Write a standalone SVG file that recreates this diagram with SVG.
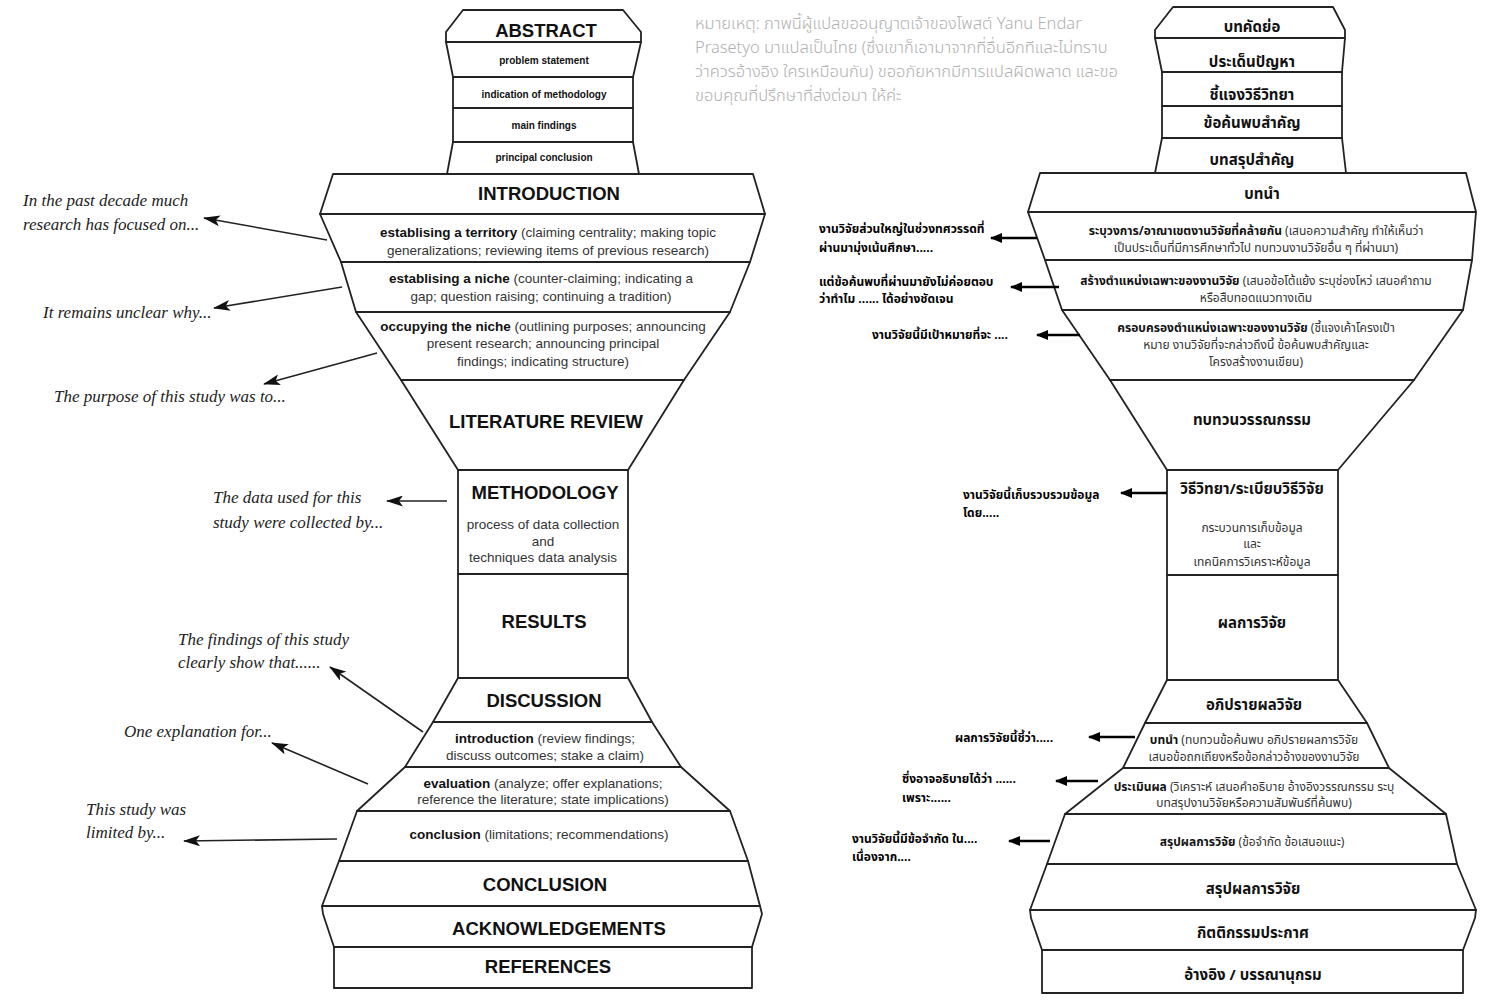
<svg xmlns="http://www.w3.org/2000/svg" width="1500" height="1000" viewBox="0 0 1500 1000">
<style>
.bx{fill:#fff;stroke:#222;stroke-width:1.8;stroke-linejoin:round}
.h{font-family:"Liberation Sans",Arial,sans-serif;font-weight:bold;font-size:18.5px;fill:#111;text-anchor:middle}
.s{font-family:"Liberation Sans",Arial,sans-serif;font-size:13.5px;fill:#333;text-anchor:middle}
.b{font-weight:bold;fill:#111}
.ab{font-family:"Liberation Sans",Arial,sans-serif;font-weight:bold;font-size:10px;fill:#111;text-anchor:middle}
.a{font-family:"Liberation Serif","Times New Roman",serif;font-style:italic;font-size:17px;fill:#222}
.th{font-family:"Noto Sans Thai","Noto Sans Thai UI",Loma,Garuda,Tahoma,"Noto Sans",sans-serif}
.thh{font-weight:bold;font-size:15px;fill:#111;text-anchor:middle}
.ths{font-size:12px;fill:#333;text-anchor:middle}
.tha{font-weight:bold;font-size:12px;fill:#000}
.note{font-size:16.5px;fill:#b0b0b0;font-weight:300}
.cl{stroke:#222;stroke-width:1.6;fill:none}
.cr{stroke:#000;stroke-width:2.5;fill:none}
</style>
<defs>
<marker id="ahL" markerWidth="17" markerHeight="11" refX="16" refY="5.5" orient="auto" markerUnits="userSpaceOnUse"><path d="M0,0 L17,5.5 L0,11 L4,5.5 z" fill="#111"/></marker>
<marker id="ahR" markerWidth="12" markerHeight="10" refX="11" refY="5" orient="auto" markerUnits="userSpaceOnUse"><path d="M0,0 L12,5 L0,10 z" fill="#000"/></marker>
</defs>
<rect width="1500" height="1000" fill="#fff"/>

<!-- LEFT DIAGRAM -->
<g id="L-abstract"><polygon class="bx" points="463,10 623,10 641,32 641,42 446,42 446,32"/><text class="h" x="546" y="37">ABSTRACT</text></g>
<g id="L-problem"><polygon class="bx" points="446,42 641,42 633,77 453,77"/><text class="ab" x="544" y="64">problem statement</text></g>
<g id="L-indication"><rect class="bx" x="453" y="77" width="180" height="31"/><text class="ab" x="544" y="98">indication of methodology</text></g>
<g id="L-mainfindings"><rect class="bx" x="453" y="108" width="180" height="34"/><text class="ab" x="544" y="129">main findings</text></g>
<g id="L-principal"><polygon class="bx" points="453,142 633,142 639,174 447,174"/><text class="ab" x="544" y="161">principal conclusion</text></g>
<g id="L-introduction"><polygon class="bx" points="333,174 753,174 765,214 320,214"/><text class="h" x="549" y="200">INTRODUCTION</text></g>
<g id="L-territory"><polygon class="bx" points="320,214 765,214 750,262 341,262"/><text class="s" x="548" y="237"><tspan class="b">establising a territory</tspan> (claiming centrality; making topic</text><text class="s" x="548" y="255">generalizations; reviewing items of previous research)</text></g>
<g id="L-niche"><polygon class="bx" points="341,262 750,262 730,312 356,312"/><text class="s" x="541" y="283"><tspan class="b">establising a niche</tspan> (counter-claiming; indicating a</text><text class="s" x="541" y="301">gap; question raising; continuing a tradition)</text></g>
<g id="L-occupy"><polygon class="bx" points="356,312 730,312 684,380 401,380"/><text class="s" x="543" y="331"><tspan class="b">occupying the niche</tspan> (outlining purposes; announcing</text><text class="s" x="543" y="348">present research; announcing principal</text><text class="s" x="543" y="366">findings; indicating structure)</text></g>
<g id="L-litreview"><polygon class="bx" points="401,380 684,380 628,470 458,470"/><text class="h" x="546" y="428">LITERATURE REVIEW</text></g>
<g id="L-methodology"><rect class="bx" x="458" y="470" width="170" height="104"/><text class="h" x="545" y="499">METHODOLOGY</text><text class="s" x="543" y="529">process of data collection</text><text class="s" x="543" y="546">and</text><text class="s" x="543" y="562">techniques data analysis</text></g>
<g id="L-results"><rect class="bx" x="458" y="574" width="170" height="104"/><text class="h" x="544" y="628">RESULTS</text></g>
<g id="L-discussion"><polygon class="bx" points="458,678 628,678 652,722 433,722"/><text class="h" x="544" y="707">DISCUSSION</text></g>
<g id="L-disc-intro"><polygon class="bx" points="433,722 652,722 681,767 405,767"/><text class="s" x="545" y="743"><tspan class="b">introduction</tspan> (review findings;</text><text class="s" x="545" y="760">discuss outcomes; stake a claim)</text></g>
<g id="L-evaluation"><polygon class="bx" points="405,767 681,767 730,811 357,811"/><text class="s" x="543" y="788"><tspan class="b">evaluation</tspan> (analyze; offer explanations;</text><text class="s" x="543" y="804">reference the literature; state implications)</text></g>
<g id="L-conc-sub"><polygon class="bx" points="357,811 730,811 748,861 339,861"/><text class="s" x="539" y="839"><tspan class="b">conclusion</tspan> (limitations; recommendations)</text></g>
<g id="L-conclusion"><polygon class="bx" points="339,861 748,861 760,906 322,906"/><text class="h" x="545" y="891">CONCLUSION</text></g>
<g id="L-ack"><polygon class="bx" points="322,906 760,906 762,914 752,947 334,947 323,914"/><text class="h" x="559" y="935">ACKNOWLEDGEMENTS</text></g>
<g id="L-references"><rect class="bx" x="334" y="947" width="418" height="41"/><text class="h" x="548" y="973">REFERENCES</text></g>

<g id="L-annotations">
<text class="a" x="23" y="206">In the past decade much</text>
<text class="a" x="23" y="230">research has focused on...</text>
<text class="a" x="43" y="318">It remains unclear why...</text>
<text class="a" x="54" y="402">The purpose of this study was to...</text>
<text class="a" x="213" y="503">The data used for this</text>
<text class="a" x="213" y="528">study were collected by...</text>
<text class="a" x="178" y="645">The findings of this study</text>
<text class="a" x="178" y="668">clearly show that......</text>
<text class="a" x="124" y="737">One explanation for...</text>
<text class="a" x="86" y="815">This study was</text>
<text class="a" x="86" y="838">limited by...</text>
</g>

<!-- NOTE -->
<g id="note" class="th note">
<text x="695" y="29">หมายเหตุ: ภาพนี้ผู้แปลขออนุญาตเจ้าของโพสต์ Yanu Endar</text>
<text x="695" y="53">Prasetyo มาแปลเป็นไทย (ซึ่งเขาก็เอามาจากที่อื่นอีกทีและไม่ทราบ</text>
<text x="695" y="77">ว่าควรอ้างอิง ใครเหมือนกัน) ขออภัยหากมีการแปลผิดพลาด และขอ</text>
<text x="695" y="101">ขอบคุณที่ปรึกษาที่ส่งต่อมา ให้ค่ะ</text>
</g>

<!-- RIGHT DIAGRAM -->
<g id="R-abstract" class="th"><polygon class="bx" points="1173,7 1333,7 1345,30 1345,38 1155,38 1155,30"/><text class="thh" x="1252" y="32">บทคัดย่อ</text></g>
<g id="R-problem" class="th"><polygon class="bx" points="1155,38 1345,38 1342,72 1162,72"/><text class="thh" x="1252" y="67">ประเด็นปัญหา</text></g>
<g id="R-indication" class="th"><rect class="bx" x="1162" y="72" width="180" height="34"/><text class="thh" x="1252" y="100">ชี้แจงวิธีวิทยา</text></g>
<g id="R-mainfindings" class="th"><rect class="bx" x="1162" y="106" width="180" height="32"/><text class="thh" x="1252" y="128">ข้อค้นพบสำคัญ</text></g>
<g id="R-principal" class="th"><polygon class="bx" points="1162,138 1342,138 1346,173 1155,173"/><text class="thh" x="1252" y="165">บทสรุปสำคัญ</text></g>
<g id="R-introduction" class="th"><polygon class="bx" points="1040,173 1466,173 1476,212 1028,212"/><text class="thh" x="1262" y="199">บทนำ</text></g>
<g id="R-territory" class="th"><polygon class="bx" points="1028,212 1476,212 1472,260 1045,260"/><text class="ths" x="1256" y="235"><tspan class="b">ระบุวงการ/อาณาเขตงานวิจัยที่คล้ายกัน</tspan> (เสนอความสำคัญ ทำให้เห็นว่า</text><text class="ths" x="1256" y="252">เป็นประเด็นที่มีการศึกษาทั่วไป ทบทวนงานวิจัยอื่น ๆ ที่ผ่านมา)</text></g>
<g id="R-niche" class="th"><polygon class="bx" points="1045,260 1472,260 1463,310 1062,310"/><text class="ths" x="1256" y="285"><tspan class="b">สร้างตำแหน่งเฉพาะของงานวิจัย</tspan> (เสนอข้อโต้แย้ง ระบุช่องโหว่ เสนอคำถาม</text><text class="ths" x="1256" y="302">หรือสืบทอดแนวทางเดิม</text></g>
<g id="R-occupy" class="th"><polygon class="bx" points="1062,310 1463,310 1414,380 1110,380"/><text class="ths" x="1256" y="332"><tspan class="b">ครอบครองตำแหน่งเฉพาะของงานวิจัย</tspan> (ชี้แจงเค้าโครงเป้า</text><text class="ths" x="1256" y="349">หมาย งานวิจัยที่จะกล่าวถึงนี้ ข้อค้นพบสำคัญและ</text><text class="ths" x="1256" y="366">โครงสร้างงานเขียน)</text></g>
<g id="R-litreview" class="th"><polygon class="bx" points="1110,380 1414,380 1338,470 1167,470"/><text class="thh" x="1252" y="425">ทบทวนวรรณกรรม</text></g>
<g id="R-methodology" class="th"><rect class="bx" x="1167" y="470" width="171" height="105"/><text class="thh" x="1252" y="494">วิธีวิทยา/ระเบียบวิธีวิจัย</text><text class="ths" x="1252" y="532">กระบวนการเก็บข้อมูล</text><text class="ths" x="1252" y="548">และ</text><text class="ths" x="1252" y="566">เทคนิคการวิเคราะห์ข้อมูล</text></g>
<g id="R-results" class="th"><rect class="bx" x="1167" y="575" width="171" height="105"/><text class="thh" x="1252" y="628">ผลการวิจัย</text></g>
<g id="R-discussion" class="th"><polygon class="bx" points="1167,680 1338,680 1367,723 1145,723"/><text class="thh" x="1254" y="710">อภิปรายผลวิจัย</text></g>
<g id="R-disc-intro" class="th"><polygon class="bx" points="1145,723 1367,723 1389,768 1123,768"/><text class="ths" x="1254" y="744"><tspan class="b">บทนำ</tspan> (ทบทวนข้อค้นพบ อภิปรายผลการวิจัย</text><text class="ths" x="1254" y="761">เสนอข้อถกเถียงหรือข้อกล่าวอ้างของงานวิจัย</text></g>
<g id="R-evaluation" class="th"><polygon class="bx" points="1123,768 1389,768 1446,814 1065,814"/><text class="ths" x="1254" y="791"><tspan class="b">ประเมินผล</tspan> (วิเคราะห์ เสนอคำอธิบาย อ้างอิงวรรณกรรม ระบุ</text><text class="ths" x="1254" y="807">บทสรุปงานวิจัยหรือความสัมพันธ์ที่ค้นพบ)</text></g>
<g id="R-conc-sub" class="th"><polygon class="bx" points="1065,814 1446,814 1457,864 1047,864"/><text class="ths" x="1252" y="846"><tspan class="b">สรุปผลการวิจัย</tspan> (ข้อจำกัด ข้อเสนอแนะ)</text></g>
<g id="R-conclusion" class="th"><polygon class="bx" points="1047,864 1457,864 1476,910 1030,910"/><text class="thh" x="1253" y="894">สรุปผลการวิจัย</text></g>
<g id="R-ack" class="th"><polygon class="bx" points="1030,910 1476,910 1475,918 1463,950 1042,950 1031,918"/><text class="thh" x="1253" y="938">กิตติกรรมประกาศ</text></g>
<g id="R-references" class="th"><rect class="bx" x="1042" y="950" width="421" height="43"/><text class="thh" x="1253" y="980">อ้างอิง / บรรณานุกรม</text></g>

<g id="R-annotations" class="th tha">
<text x="819" y="233">งานวิจัยส่วนใหญ่ในช่วงทศวรรดที่</text>
<text x="819" y="252">ผ่านมามุ่งเน้นศึกษา.....</text>
<text x="819" y="286">แต่ข้อค้นพบที่ผ่านมายังไม่ค่อยตอบ</text>
<text x="819" y="303">ว่าทำไม ...... ได้อย่างชัดเจน</text>
<text x="872" y="339">งานวิจัยนี้มีเป้าหมายที่จะ ....</text>
<text x="963" y="499">งานวิจัยนี้เก็บรวบรวมข้อมูล</text>
<text x="963" y="517">โดย.....</text>
<text x="955" y="742">ผลการวิจัยนี้ชี้ว่า.....</text>
<text x="902" y="783">ซึ่งอาจอธิบายได้ว่า ......</text>
<text x="902" y="802">เพราะ......</text>
<text x="852" y="843">งานวิจัยนี้มีข้อจำกัด ใน....</text>
<text x="852" y="861">เนื่องจาก....</text>
</g>

<!-- CONNECTORS -->
<g id="connectors">
<line class="cl" x1="327" y1="240" x2="204" y2="218" marker-end="url(#ahL)"/>
<line class="cl" x1="342" y1="287" x2="214" y2="308" marker-end="url(#ahL)"/>
<line class="cl" x1="377" y1="353" x2="264" y2="384" marker-end="url(#ahL)"/>
<line class="cl" x1="447" y1="501" x2="387" y2="501" marker-end="url(#ahL)"/>
<line class="cl" x1="423" y1="732" x2="330" y2="667" marker-end="url(#ahL)"/>
<line class="cl" x1="368" y1="784" x2="272" y2="743" marker-end="url(#ahL)"/>
<line class="cl" x1="337" y1="839" x2="184" y2="841" marker-end="url(#ahL)"/>
<line class="cr" x1="1037" y1="238" x2="991" y2="238" marker-end="url(#ahR)"/>
<line class="cr" x1="1059" y1="287" x2="1011" y2="287" marker-end="url(#ahR)"/>
<line class="cr" x1="1080" y1="335" x2="1037" y2="335" marker-end="url(#ahR)"/>
<line class="cr" x1="1167" y1="493" x2="1121" y2="493" marker-end="url(#ahR)"/>
<line class="cr" x1="1135" y1="737" x2="1089" y2="737" marker-end="url(#ahR)"/>
<line class="cr" x1="1098" y1="781" x2="1056" y2="781" marker-end="url(#ahR)"/>
<line class="cr" x1="1050" y1="841" x2="1009" y2="841" marker-end="url(#ahR)"/>
</g>
</svg>
